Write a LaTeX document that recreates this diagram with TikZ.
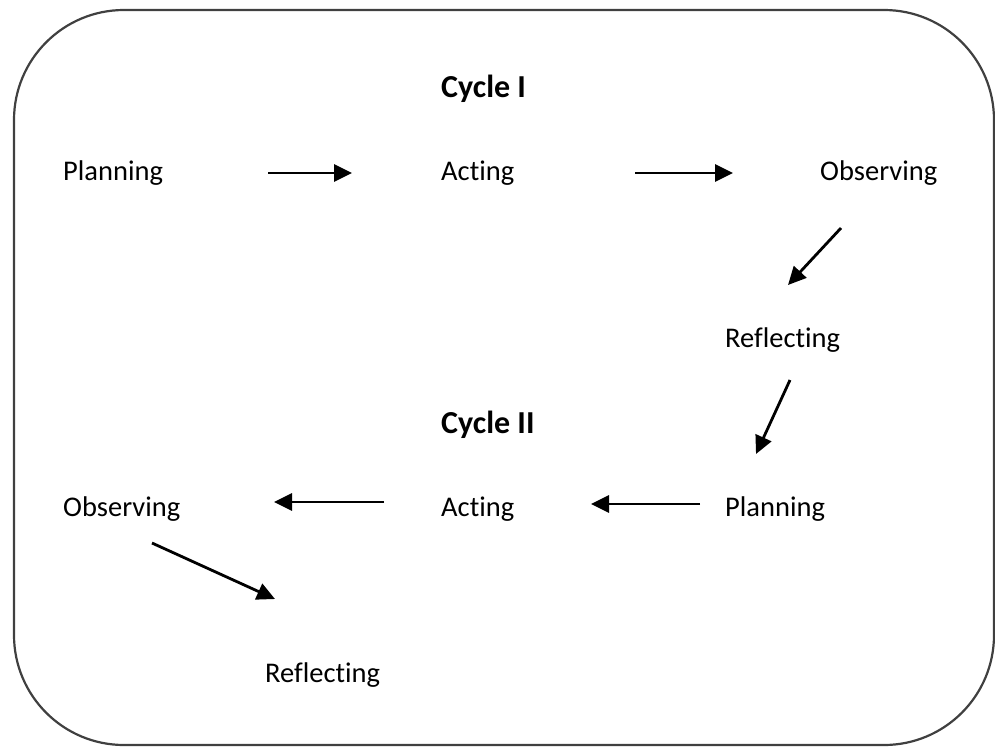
\documentclass[tikz,border=0pt]{standalone}
\usepackage{fontspec}
\setmainfont[RawFeature={-liga;-dlig;-clig}]{Carlito}
\usetikzlibrary{arrows.meta}
\begin{document}
\begin{tikzpicture}[x=1pt,y=-1pt,
  lbl/.style={font=\fontsize{28.5}{34}\selectfont, anchor=base west, inner sep=0pt},
  ttl/.style={lbl, font=\fontsize{32}{38}\selectfont\bfseries},
  arr/.style={line width=2.8pt, -{Triangle[length=18pt,width=17pt]}},
  frame/.style={line width=2.2pt, draw=black!75, rounded corners=110pt}]
\useasboundingbox (0,0) rectangle (995,747);
\draw[frame] (14,10) rectangle (994,745);
\node[ttl] (c1) at (441,97) {Cycle I};
\node[lbl] (p1) at (63,180) {Planning};
\node[lbl] (a1) at (441,180) {Acting};
\node[lbl] (o1) at (820,180) {Observing};
\node[lbl] (r1) at (725,347) {Reflecting};
\node[ttl] (c2) at (441,433) {Cycle II};
\node[lbl] (p2) at (725,516) {Planning};
\node[lbl] (a2) at (441,516) {Acting};
\node[lbl] (o2) at (63,516) {Observing};
\node[lbl] (r2) at (265,682) {Reflecting};
\coordinate (e1s) at (268,173); \coordinate (e1e) at (352,173);
\coordinate (e2s) at (635,173); \coordinate (e2e) at (733,173);
\coordinate (e3s) at (841,228); \coordinate (e3e) at (788,285);
\coordinate (e4s) at (790,380); \coordinate (e4e) at (756,454);
\coordinate (e5s) at (700,504); \coordinate (e5e) at (591,504);
\coordinate (e6s) at (384,502); \coordinate (e6e) at (274,502);
\coordinate (e7s) at (152,543); \coordinate (e7e) at (275,599);
\draw[arr] (e1s) -- (e1e);
\draw[arr] (e2s) -- (e2e);
\draw[arr] (e3s) -- (e3e);
\draw[arr] (e4s) -- (e4e);
\draw[arr] (e5s) -- (e5e);
\draw[arr] (e6s) -- (e6e);
\draw[arr] (e7s) -- (e7e);
\end{tikzpicture}
\end{document}
